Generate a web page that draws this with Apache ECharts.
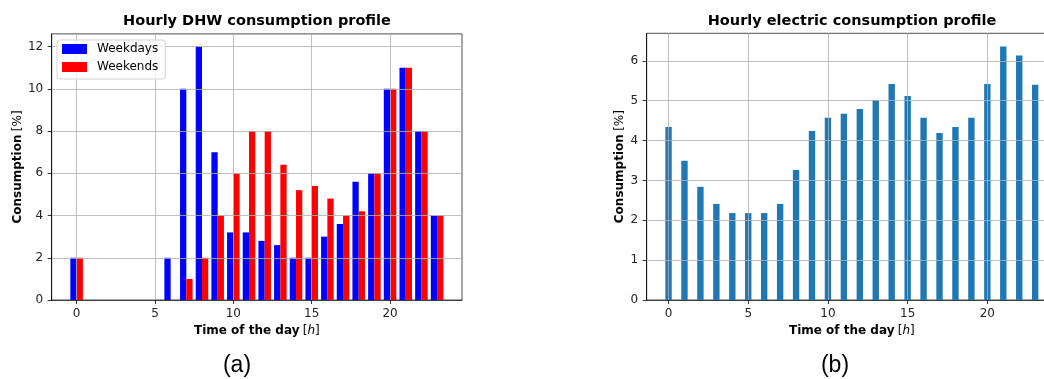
<!DOCTYPE html>
<html>
<head>
<meta charset="utf-8">
<script src="https://cdn.jsdelivr.net/npm/echarts@6/dist/echarts.min.js"></script>
<style>
html,body{margin:0;padding:0;background:#fff;}
#chart{width:1044px;height:379px;}
</style>
</head>
<body>
<div id="chart"></div>
<script>
// ---- data ----
const hours = [0,1,2,3,4,5,6,7,8,9,10,11,12,13,14,15,16,17,18,19,20,21,22,23];
const dhwWeekdays = [2,0,0,0,0,0,2,10,12,7,3.2,3.2,2.8,2.6,2,2,3,3.6,5.6,6,10,11,8,4];
const dhwWeekends = [2,0,0,0,0,0,0,1,2,4,6,8,8,6.4,5.2,5.4,4.8,4,4.2,6,10,11,8,4];
const electric = [4.34,3.49,2.84,2.41,2.18,2.18,2.18,2.41,3.26,4.24,4.57,4.67,4.79,5.02,5.42,5.12,4.57,4.19,4.34,4.57,5.42,6.36,6.13,5.40];
const xTicks = [0,5,10,15,20];
const yTicksDhw = [0,2,4,6,8,10,12];
const yTicksElec = [0,1,2,3,4,5,6];
const titles = ['Hourly DHW consumption profile','Hourly electric consumption profile'];
const panelLabels = ['(a)','(b)'];

const FONT = 'DejaVu Sans';
const chart = echarts.init(document.getElementById('chart'), null, {renderer:'canvas'});

function barRenderer(off0, off1, color){
  return function(params, api){
    const x = api.value(0), y = api.value(1);
    const p0 = api.coord([x + off0, 0]);
    const p1 = api.coord([x + off1, y]);
    return {
      type:'rect',
      shape:{x:p0[0], y:p1[1], width:p1[0]-p0[0], height:p0[1]-p1[1]},
      style:{fill:color}
    };
  };
}
function pairs(xs, ys){ return xs.map((x,i)=>[x, ys[i]]); }

const nameRich = {
  b:{fontFamily:FONT, fontSize:12, fontWeight:'bold', color:'#000'},
  n:{fontFamily:FONT, fontSize:12, fontWeight:'normal', color:'#000'},
  i:{fontFamily:FONT, fontSize:12, fontStyle:'italic', color:'#000'}
};

function xAxisCfg(gi, min, max){
  return {
    type:'value', gridIndex:gi, min:min, max:max, z:3,
    name:'{b|Time of the day} {n|[}{i|h}{n|]}',
    nameLocation:'middle', nameGap:25,
    nameTextStyle:{rich:nameRich},
    axisLine:{show:true, onZero:false, lineStyle:{color:'#222', width:0.8}},
    axisTick:{show:true, length:4, customValues:xTicks, lineStyle:{color:'#000', width:0.8}},
    axisLabel:{customValues:xTicks, margin:8, fontFamily:FONT, fontSize:12, color:'#222'},
    splitLine:{show:true, lineStyle:{color:'#b0b0b0', width:0.8}}
  };
}
function yAxisCfg(gi, max, ticks, gap){
  return {
    type:'value', gridIndex:gi, min:0, max:max, z:3,
    name:'{b|Consumption} {n|[%]}',
    nameLocation:'middle', nameGap:gap,
    nameTextStyle:{rich:nameRich},
    axisLine:{show:true, onZero:false, lineStyle:{color:'#000', width:0.8}},
    axisTick:{show:true, length:4, customValues:ticks, lineStyle:{color:'#000', width:0.8}},
    axisLabel:{customValues:ticks, margin:8.5, fontFamily:FONT, fontSize:12, color:'#222'},
    splitLine:{show:true, lineStyle:{color:'#b0b0b0', width:0.8}}
  };
}

const option = {
  backgroundColor:'#fff',
  animation:false,
  title:[
    {text:titles[0], left:257, top:14, textAlign:'center', padding:0,
     textStyle:{fontFamily:FONT, fontSize:14.5, fontWeight:'bold', color:'#000'}},
    {text:titles[1], left:852, top:14, textAlign:'center', padding:0,
     textStyle:{fontFamily:FONT, fontSize:14.5, fontWeight:'bold', color:'#000'}}
  ],
  grid:[
    {left:51.7, top:33.9, width:410.3, height:266.1, outerBoundsMode:'none', containLabel:false,
     show:true, borderColor:'#222', borderWidth:0.8, backgroundColor:'transparent'},
    {left:646.7, top:33.3, width:410.3, height:266.7, outerBoundsMode:'none', containLabel:false,
     show:true, borderColor:'#222', borderWidth:0.8, backgroundColor:'transparent'}
  ],
  xAxis:[ xAxisCfg(0, -1.59, 24.59), xAxisCfg(1, -1.37, 24.37) ],
  yAxis:[ yAxisCfg(0, 12.6, yTicksDhw, 28), yAxisCfg(1, 6.69, yTicksElec, 21) ],
  legend:{
    data:['Weekdays','Weekends'], orient:'vertical', left:57, top:40, z:10,
    icon:'rect', itemWidth:25, itemHeight:10, itemGap:4,
    padding:[2,7,5,5],
    backgroundColor:'rgba(255,255,255,0.8)', borderColor:'#d4d4d4', borderWidth:1, borderRadius:3,
    textStyle:{fontFamily:FONT, fontSize:12, color:'#000', lineHeight:14, padding:[0,0,0,5]}
  },
  series:[
    {name:'Weekdays', type:'custom', xAxisIndex:0, yAxisIndex:0, itemStyle:{color:'#0000ff'},
     renderItem:barRenderer(-0.4, 0, '#0000ff'), encode:{x:0, y:1}, data:pairs(hours, dhwWeekdays)},
    {name:'Weekends', type:'custom', xAxisIndex:0, yAxisIndex:0, itemStyle:{color:'#ff0000'},
     renderItem:barRenderer(0, 0.4, '#ff0000'), encode:{x:0, y:1}, data:pairs(hours, dhwWeekends)},
    {name:'Electric', type:'custom', xAxisIndex:1, yAxisIndex:1, itemStyle:{color:'#1f77b4'},
     renderItem:barRenderer(-0.2, 0.2, '#1f77b4'), encode:{x:0, y:1}, data:pairs(hours, electric)}
  ],
  graphic:[
    {type:'text', x:237, y:366, z:10, style:{text:panelLabels[0], font:'23px "Liberation Sans"', fill:'#000', align:'center', verticalAlign:'middle'}},
    {type:'text', x:835, y:366, z:10, style:{text:panelLabels[1], font:'23px "Liberation Sans"', fill:'#000', align:'center', verticalAlign:'middle'}}
  ]
};
chart.setOption(option);
</script>
</body>
</html>
